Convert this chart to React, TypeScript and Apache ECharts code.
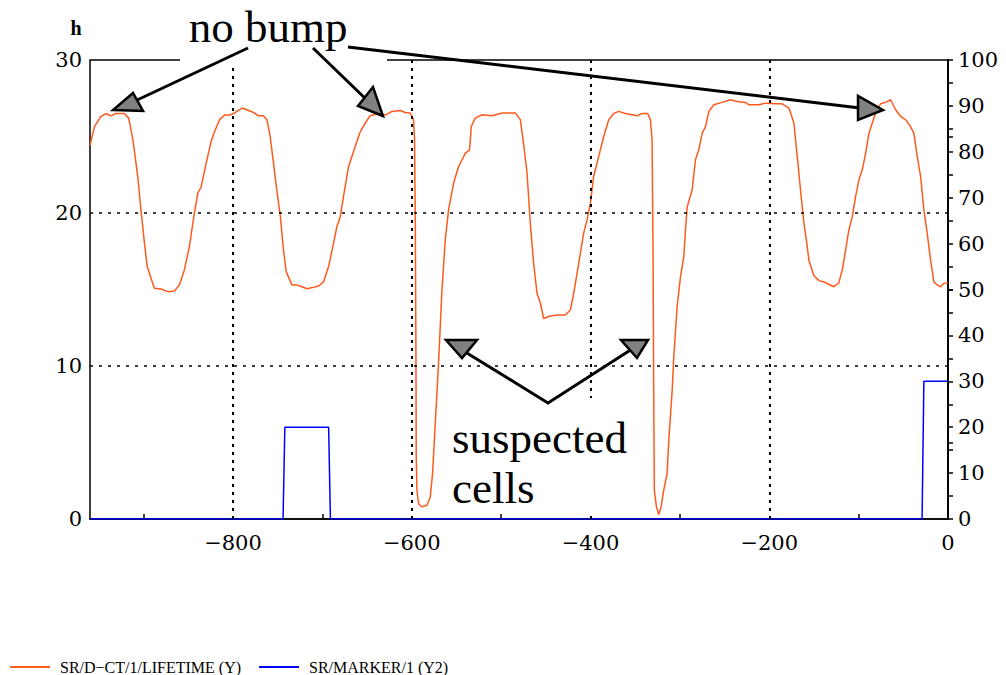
import React, { useEffect, useRef } from "react";
import * as echarts from "echarts";

// ---- data ----
const xLabelValues = [-800, -600, -400, -200, 0];
const xMinorTickValues = [-900, -700, -500, -300, -100];
const xGridValues = [-800, -600, -400, -200];
const yGridValues = [10, 20];
const yLeftTickValues = [5, 15, 25];
const yRightTickValues = [0, 5, 10, 15, 20, 25, 30, 35, 40, 45, 50, 55, 60, 65, 70, 75, 80, 85, 90, 95, 100];

const lifetimeX = [
  -960, -959, -955, -948, -942, -936.5, -931, -921.6, -916.7, -912, -906.6, -903, -899, -896, -891.7, -888,
  -880.5, -873, -865.6, -860, -854.4, -848.8, -843.2, -839.4, -835.7, -830, -824.5, -820.8, -815, -809.4,
  -803.8, -799.5, -790, -784.5, -777, -771.5, -766, -762, -758.4, -754.7, -751, -747, -743.5, -740.5, -734,
  -728.5, -723, -717.3, -710, -704.3, -698.7, -693, -687.6, -683.8, -680, -676.4, -670.8, -663.3, -657.7,
  -652, -646.6, -637.2, -629.7, -622.2, -612.9, -607.3, -601.7, -598, -596.9, -596, -595.3, -595, -594.2,
  -592.3, -588.6, -583, -579.3, -576.7, -573.7, -570, -566.2, -562.5, -558.8, -553.2, -547.6, -540.1,
  -535.3, -533.4, -529, -521.4, -510.3, -499, -484, -478.5, -474.8, -471, -467.3, -463.6, -459.8, -456,
  -452.4, -445, -437.5, -428.2, -422.5, -418.8, -413.2, -407.6, -403.9, -400.1, -396.4, -390.8, -385.2,
  -379.6, -374, -368.4, -361, -353.4, -347.8, -342.3, -336, -333, -331.1, -330, -329.3, -328.6, -326.2,
  -323.6, -321, -318.1, -314.3, -312.4, -308.6, -306.8, -303.1, -299.3, -295.6, -293.7, -291.8, -286.3,
  -282.5, -278.8, -275.1, -271.3, -267.6, -262, -252.7, -243.3, -235.9, -226.5, -222.8, -211.6, -204.1,
  -192.9, -185.5, -178, -172.4, -168.7, -165, -161.2, -157.5, -155.6, -150, -144.4, -138.9, -133.3, -127.7,
  -122.1, -118.3, -114.6, -110.9, -107.1, -103.4, -99.7, -95.9, -92.2, -88.5, -84.7, -81, -75.4, -69.8,
  -64.2, -58.6, -53, -47.5, -41.9, -38.2, -34.4, -30.7, -27, -23.3, -19.5, -15.8, -12.1, -8.3, -4.6, 0,
];
const lifetimeY = [
  24.4, 24.67, 25.65, 26.3, 26.5, 26.35, 26.5, 26.5, 26.2, 24.8, 22.4, 20.2, 18.0, 16.5, 15.73, 15.08,
  15.03, 14.86, 14.9, 15.3, 16.28, 17.8, 20.0, 21.3, 21.7, 23.26, 24.67, 25.3, 26.1, 26.4,
  26.4, 26.5, 26.86, 26.75, 26.57, 26.35, 26.35, 26.1, 25.0, 23.26, 21.5, 19.76, 17.58, 16.17, 15.3,
  15.3, 15.18, 15.05, 15.14, 15.23, 15.5, 16.5, 18.0, 19.1, 19.76, 21.07, 23.0, 24.35, 25.3,
  25.88, 26.35, 26.5, 26.4, 26.64, 26.7, 26.57, 26.53, 26.1, 24.8, 19.3, 10.6, 4.06, 1.88,
  1.0, 0.79, 0.9, 1.44, 2.97, 6.24, 10.2, 14.97, 18.24, 20.2, 21.95, 23.04, 23.9,
  24.13, 25.65, 26.2, 26.42, 26.35, 26.53, 26.53, 26.1, 24.5, 22.6, 19.3, 16.7, 14.75, 14.1,
  13.1, 13.27, 13.33, 13.33, 13.66, 14.75, 16.7, 18.7, 19.55, 20.64, 22.4, 23.7, 25.0,
  26.1, 26.5, 26.64, 26.5, 26.42, 26.35, 26.5, 26.5, 26.1, 24.8, 17.15, 8.4, 1.88, 0.79,
  0.3, 0.79, 1.88, 2.97, 5.15, 8.4, 10.6, 13.87, 15.84, 17.15, 18.9, 20.4, 21.5,
  23.5, 24.13, 25.2, 25.65, 26.64, 27.07, 27.23, 27.4, 27.29, 27.23, 27.07, 27.07, 27.18,
  27.14, 27.14, 26.86, 25.88, 23.7, 21.5, 19.33, 17.8, 16.9, 15.9, 15.58, 15.5, 15.34, 15.18,
  15.45, 16.28, 17.58, 18.9, 19.76, 21.07, 22.17, 22.82, 23.9, 25.2, 25.88, 26.53, 27.14, 27.23,
  27.4, 26.75, 26.31, 26.1, 25.65, 25.2, 23.7, 22.4, 20.2, 18.68, 16.93, 15.5, 15.3, 15.18, 15.4, 15.45,
];

const markerX = [-960, -744, -742, -693, -691, -29, -27, 0];
const markerY = [0, 0, 20, 20, 0, 0, 30, 30];

const seriesNames = ["SR/D\u2212CT/1/LIFETIME (Y)", "SR/MARKER/1 (Y2)"];

const serif = "'DejaVu Serif', serif";
const times = "'Liberation Serif', serif";

export default function App() {
  const ref = useRef<HTMLDivElement>(null);

  useEffect(() => {
    if (!ref.current) return;
    const chart = echarts.init(ref.current, null, { renderer: "svg" });

    const lifetimeData = lifetimeX.map((x, i) => [x, lifetimeY[i]]);
    const markerData = markerX.map((x, i) => [x, markerY[i]]);

    const arrowStroke = { stroke: "#000", lineWidth: 3 };
    const headStyle = { fill: "#808080", stroke: "#000", lineWidth: 2.5 };
    const tickLine = { color: "#000", width: 1.5 };

    chart.setOption({
      animation: false,
      backgroundColor: "#fff",
      grid: {
        left: 90,
        right: 58,
        top: 60,
        bottom: 156,
        show: true,
        borderColor: "#000",
        borderWidth: 1.5,
        backgroundColor: "transparent",
      },
      legend: {
        left: 5,
        top: 654,
        icon: "rect",
        itemWidth: 40,
        itemHeight: 2,
        itemGap: 18,
        data: seriesNames,
        textStyle: {
          fontFamily: times,
          fontSize: 16,
          color: "#000",
          padding: [0, 0, 0, 5],
        },
      },
      xAxis: {
        type: "value",
        min: -960,
        max: 0,
        axisLine: { show: true, lineStyle: { color: "#000", width: 1.5 } },
        axisTick: {
          show: true,
          inside: true,
          length: 5,
          customValues: xMinorTickValues,
          lineStyle: tickLine,
        },
        splitLine: { show: false },
        axisLabel: {
          customValues: xLabelValues,
          margin: 13,
          color: "#000",
          fontFamily: serif,
          fontSize: 21,
          formatter: (v: number) => (v < 0 ? "\u2212" + Math.abs(v) : String(v)),
        },
      },
      yAxis: [
        {
          type: "value",
          position: "left",
          min: 0,
          max: 30,
          interval: 10,
          axisLine: { show: true, lineStyle: { color: "#000", width: 1.5 } },
          axisTick: { show: true, inside: true, length: 5, customValues: yLeftTickValues, lineStyle: tickLine },
          splitLine: { show: false },
          axisLabel: { margin: 8, color: "#000", fontFamily: serif, fontSize: 21 },
        },
        {
          type: "value",
          position: "right",
          min: 0,
          max: 100,
          interval: 10,
          axisLine: { show: true, lineStyle: { color: "#000", width: 1.5 } },
          axisTick: { show: true, inside: false, length: 5, customValues: yRightTickValues, lineStyle: tickLine },
          splitLine: { show: false },
          axisLabel: { margin: 10, color: "#000", fontFamily: serif, fontSize: 21 },
        },
      ],
      series: [
        {
          name: seriesNames[0],
          type: "line",
          data: lifetimeData,
          yAxisIndex: 0,
          showSymbol: false,
          symbol: "none",
          color: "#ff5a1e",
          lineStyle: { color: "#ff5a1e", width: 1.5 },
          z: 3,
          markLine: {
            silent: true,
            symbol: ["none", "none"],
            label: { show: false },
            lineStyle: { color: "#000", type: [3, 5], width: 2 },
            emphasis: { disabled: true },
            data: [
              ...xGridValues.map((v) => ({ xAxis: v })),
              ...yGridValues.map((v) => ({ yAxis: v, lineStyle: { color: "#000", type: [3, 6], width: 1.5 } })),
            ],
          },
        },
        {
          name: seriesNames[1],
          type: "line",
          data: markerData,
          yAxisIndex: 1,
          showSymbol: false,
          symbol: "none",
          color: "#0000ff",
          lineStyle: { color: "#0000ff", width: 1.5 },
          z: 4,
        },
      ],
      graphic: {
        elements: [
          { type: "rect", z: 50, shape: { x: 180, y: 0, width: 207, height: 66 }, style: { fill: "#fff" } },
          { type: "rect", z: 50, shape: { x: 442, y: 398, width: 198, height: 115 }, style: { fill: "#fff" } },
          {
            type: "text",
            z: 60,
            x: 76,
            y: 28,
            style: { text: "h", font: "bold 20px 'Liberation Serif', serif", fill: "#000", align: "center", verticalAlign: "middle" },
          },
          {
            type: "text",
            z: 60,
            x: 268,
            y: 27,
            style: { text: "no bump", font: "45px 'Liberation Serif', serif", fill: "#000", align: "center", verticalAlign: "middle" },
          },
          {
            type: "text",
            z: 60,
            x: 452,
            y: 438,
            style: { text: "suspected", font: "45px 'Liberation Serif', serif", fill: "#000", align: "left", verticalAlign: "middle" },
          },
          {
            type: "text",
            z: 60,
            x: 452,
            y: 488,
            style: { text: "cells", font: "45px 'Liberation Serif', serif", fill: "#000", align: "left", verticalAlign: "middle" },
          },
          { type: "polyline", z: 60, shape: { points: [[248, 48], [135, 101]] }, style: arrowStroke },
          { type: "polygon", z: 61, shape: { points: [[113, 110], [143, 111], [133, 93]] }, style: headStyle },
          { type: "polyline", z: 60, shape: { points: [[313, 48], [370, 103]] }, style: arrowStroke },
          { type: "polygon", z: 61, shape: { points: [[383, 116], [358, 106], [373, 87]] }, style: headStyle },
          { type: "polyline", z: 60, shape: { points: [[348, 47], [860, 108]] }, style: arrowStroke },
          { type: "polygon", z: 61, shape: { points: [[883, 110], [858, 96], [858, 120]] }, style: headStyle },
          { type: "polyline", z: 60, shape: { points: [[462, 350], [548, 403], [632, 349]] }, style: arrowStroke },
          { type: "polygon", z: 61, shape: { points: [[446, 340], [477, 340], [462, 358]] }, style: headStyle },
          { type: "polygon", z: 61, shape: { points: [[621, 340], [648, 340], [637, 358]] }, style: headStyle },
        ],
      },
    });

    return () => chart.dispose();
  }, []);

  return (
    <div
      ref={ref}
      style={{ position: "fixed", left: 0, top: 0, width: 1006, height: 675, background: "#fff" }}
    />
  );
}
